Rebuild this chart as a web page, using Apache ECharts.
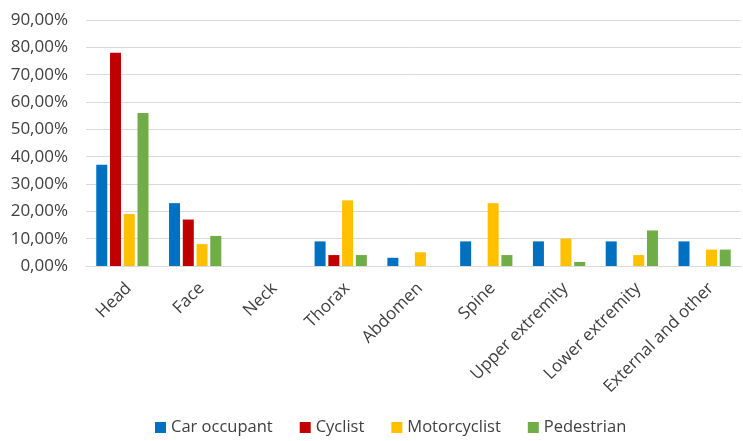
<!DOCTYPE html>
<html>
<head>
<meta charset="utf-8">
<script src="https://cdn.jsdelivr.net/npm/echarts@6/dist/echarts.min.js"></script>
<style>
  html, body { margin: 0; padding: 0; background: #fff; }
  #chart { width: 743px; height: 441px; }
</style>
</head>
<body>
<div id="chart"></div>
<script>
const categories = ['Head', 'Face', 'Neck', 'Thorax', 'Abdomen', 'Spine', 'Upper extremity', 'Lower extremity', 'External and other']
const carOccupant = [37, 23, null, 9, 3, 9, 9, 9, 9]
const cyclist = [78, 17, null, 4, null, null, null, null, null]
const motorcyclist = [19, 8, null, 24, 5, 23, 10, 4, 6]
const pedestrian = [56, 11, null, 4, null, 4, 1.5, 13, 6]
const seriesNames = ['Car occupant', 'Cyclist', 'Motorcyclist', 'Pedestrian']

const colors = ['#0070c0', '#c00000', '#ffc000', '#70ad47']
const font = '"Open Sans", "Noto Sans", sans-serif'

const chart = echarts.init(document.getElementById('chart'))

const makeSeries = (name, data) => ({
  name: name,
  type: 'bar',
  data: data,
  barWidth: 11,
  barGap: '25%',
})

const option = {
  animation: false,
  color: colors,
  textStyle: { fontFamily: font },
  grid: { left: 86, right: 2, top: 20, bottom: 175 },
  legend: {
    bottom: 0,
    left: 150,
    itemWidth: 11,
    itemHeight: 11,
    itemGap: 27,
    icon: 'rect',
    textStyle: { fontSize: 16.5, color: '#404040', fontFamily: font },
    data: seriesNames,
  },
  xAxis: {
    type: 'category',
    data: categories,
    axisLine: { lineStyle: { color: '#d9d9d9' } },
    axisTick: { show: false },
    axisLabel: {
      rotate: 45,
      interval: 0,
      margin: 26,
      padding: [0, -9, 0, 0],
      fontSize: 17,
      color: '#404040',
      fontFamily: font,
    },
  },
  yAxis: {
    type: 'value',
    min: 0,
    max: 90,
    interval: 10,
    axisLine: { show: false },
    axisTick: { show: false },
    splitLine: { lineStyle: { color: '#d9d9d9', width: 1 } },
    axisLabel: {
      fontSize: 17,
      color: '#404040',
      margin: 18,
      fontFamily: font,
      formatter: (v) => v.toFixed(2).replace('.', ',') + '%',
    },
  },
  series: [
    makeSeries(seriesNames[0], carOccupant),
    makeSeries(seriesNames[1], cyclist),
    makeSeries(seriesNames[2], motorcyclist),
    makeSeries(seriesNames[3], pedestrian),
  ],
}

chart.setOption(option)
</script>
</body>
</html>
